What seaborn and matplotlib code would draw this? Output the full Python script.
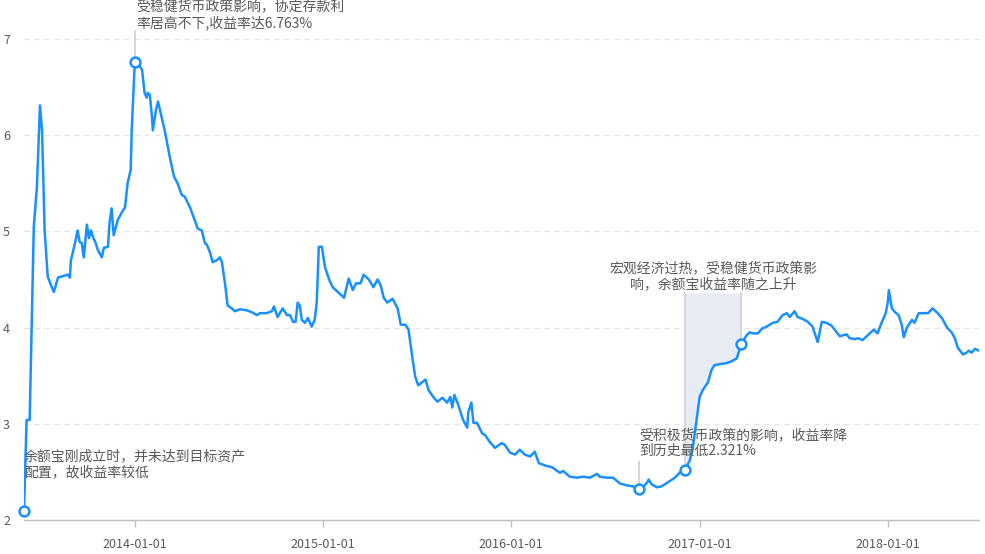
import matplotlib
matplotlib.use("Agg")
import matplotlib.pyplot as plt
import matplotlib.dates as mdates
import seaborn as sns
import pandas as pd

# ---------------- data ----------------
dates = [
    "2013-05-31", "2013-06-05", "2013-06-11", "2013-06-19", "2013-06-25", "2013-07-01",
    "2013-07-05", "2013-07-10", "2013-07-16", "2013-07-24", "2013-07-28", "2013-08-05",
    "2013-08-24", "2013-08-28", "2013-08-30", "2013-09-07", "2013-09-12", "2013-09-16",
    "2013-09-20", "2013-09-24", "2013-09-30", "2013-10-04", "2013-10-08", "2013-10-12",
    "2013-10-17", "2013-10-21", "2013-10-29", "2013-11-02", "2013-11-10", "2013-11-13",
    "2013-11-17", "2013-11-21", "2013-11-29", "2013-12-07", "2013-12-13", "2013-12-18",
    "2013-12-24", "2013-12-26", "2014-01-01", "2014-01-07", "2014-01-15", "2014-01-20",
    "2014-01-24", "2014-01-26", "2014-01-30", "2014-02-03", "2014-02-05", "2014-02-11",
    "2014-02-15", "2014-02-22", "2014-02-28", "2014-03-10", "2014-03-18", "2014-03-25",
    "2014-04-02", "2014-04-08", "2014-04-18", "2014-04-27", "2014-05-03", "2014-05-11",
    "2014-05-17", "2014-05-21", "2014-05-27", "2014-06-01", "2014-06-09", "2014-06-15",
    "2014-06-19", "2014-06-25", "2014-06-30", "2014-07-08", "2014-07-14", "2014-07-24",
    "2014-08-06", "2014-08-16", "2014-08-26", "2014-09-01", "2014-09-14", "2014-09-24",
    "2014-09-28", "2014-10-05", "2014-10-15", "2014-10-23", "2014-10-29", "2014-11-04",
    "2014-11-09", "2014-11-13", "2014-11-17", "2014-11-21", "2014-11-27", "2014-12-03",
    "2014-12-10", "2014-12-16", "2014-12-20", "2014-12-24", "2014-12-30", "2015-01-05",
    "2015-01-13", "2015-01-20", "2015-02-01", "2015-02-11", "2015-02-20", "2015-02-28",
    "2015-03-06", "2015-03-15", "2015-03-21", "2015-03-31", "2015-04-09", "2015-04-17",
    "2015-04-23", "2015-04-29", "2015-05-06", "2015-05-16", "2015-05-26", "2015-06-01",
    "2015-06-10", "2015-06-16", "2015-06-24", "2015-06-29", "2015-07-05", "2015-07-19",
    "2015-07-25", "2015-08-03", "2015-08-11", "2015-08-21", "2015-08-30", "2015-09-05",
    "2015-09-09", "2015-09-13", "2015-09-19", "2015-09-24", "2015-09-30", "2015-10-08",
    "2015-10-10", "2015-10-16", "2015-10-20", "2015-10-27", "2015-11-06", "2015-11-12",
    "2015-11-21", "2015-12-01", "2015-12-14", "2015-12-20", "2015-12-30", "2016-01-09",
    "2016-01-18", "2016-01-28", "2016-02-07", "2016-02-16", "2016-02-24", "2016-03-11",
    "2016-03-20", "2016-04-05", "2016-04-11", "2016-04-24", "2016-05-08", "2016-05-19",
    "2016-06-02", "2016-06-16", "2016-06-21", "2016-07-05", "2016-07-17", "2016-07-30",
    "2016-08-13", "2016-08-24", "2016-09-05", "2016-09-13", "2016-09-21", "2016-09-24",
    "2016-09-30", "2016-10-10", "2016-10-19", "2016-10-31", "2016-11-14", "2016-11-23",
    "2016-12-03", "2016-12-13", "2016-12-19", "2016-12-26", "2017-01-01", "2017-01-07",
    "2017-01-17", "2017-01-24", "2017-01-30", "2017-02-09", "2017-02-22", "2017-03-04",
    "2017-03-14", "2017-03-23", "2017-04-02", "2017-04-08", "2017-04-14", "2017-04-24",
    "2017-05-02", "2017-05-11", "2017-05-23", "2017-06-01", "2017-06-11", "2017-06-19",
    "2017-06-25", "2017-07-04", "2017-07-10", "2017-07-20", "2017-07-30", "2017-08-08",
    "2017-08-18", "2017-08-26", "2017-09-04", "2017-09-14", "2017-09-24", "2017-09-30",
    "2017-10-13", "2017-10-19", "2017-10-29", "2017-11-04", "2017-11-13", "2017-11-23",
    "2017-12-05", "2017-12-12", "2017-12-20", "2017-12-28", "2018-01-01", "2018-01-03",
    "2018-01-09", "2018-01-15", "2018-01-22", "2018-01-28", "2018-02-01", "2018-02-07",
    "2018-02-17", "2018-02-22", "2018-03-02", "2018-03-14", "2018-03-20", "2018-03-29",
    "2018-04-06", "2018-04-16", "2018-04-26", "2018-05-05", "2018-05-11", "2018-05-17",
    "2018-05-27", "2018-06-03", "2018-06-07", "2018-06-13", "2018-06-19", "2018-06-27",
]
rates = [
    2.094, 3.04, 3.04, 5.05, 5.46, 6.31,
    6.05, 5.01, 4.53, 4.42, 4.37, 4.52,
    4.55, 4.52, 4.70, 4.88, 5.01, 4.89,
    4.88, 4.73, 5.07, 4.93, 5.01, 4.94,
    4.88, 4.81, 4.73, 4.83, 4.84, 5.09,
    5.24, 4.96, 5.12, 5.20, 5.25, 5.50,
    5.64, 6.05, 6.763, 6.75, 6.68, 6.44,
    6.39, 6.44, 6.42, 6.21, 6.05, 6.26,
    6.35, 6.19, 6.05, 5.77, 5.57, 5.50,
    5.38, 5.36, 5.25, 5.12, 5.03, 5.01,
    4.88, 4.86, 4.78, 4.68, 4.70, 4.73,
    4.68, 4.46, 4.23, 4.20, 4.17, 4.19,
    4.18, 4.16, 4.13, 4.15, 4.15, 4.17,
    4.22, 4.11, 4.20, 4.13, 4.13, 4.06,
    4.06, 4.26, 4.23, 4.08, 4.05, 4.10,
    4.01, 4.08, 4.26, 4.84, 4.84, 4.63,
    4.50, 4.42, 4.36, 4.31, 4.51, 4.39,
    4.46, 4.46, 4.55, 4.50, 4.42, 4.50,
    4.44, 4.31, 4.26, 4.30, 4.20, 4.03,
    4.03, 3.98, 3.67, 3.49, 3.40, 3.46,
    3.35, 3.28, 3.23, 3.27, 3.22, 3.28,
    3.17, 3.30, 3.22, 3.14, 3.04, 2.96,
    3.12, 3.22, 3.01, 3.01, 2.90, 2.88,
    2.81, 2.75, 2.80, 2.78, 2.70, 2.68,
    2.73, 2.68, 2.66, 2.71, 2.59, 2.56,
    2.55, 2.49, 2.51, 2.45, 2.44, 2.45,
    2.44, 2.48, 2.45, 2.44, 2.44, 2.38,
    2.36, 2.35, 2.321, 2.34, 2.39, 2.42,
    2.37, 2.34, 2.35, 2.39, 2.44, 2.49,
    2.52, 2.62, 2.76, 3.04, 3.28, 3.35,
    3.43, 3.56, 3.61, 3.62, 3.63, 3.65,
    3.68, 3.83, 3.92, 3.95, 3.94, 3.94,
    3.99, 4.01, 4.05, 4.06, 4.13, 4.15,
    4.11, 4.17, 4.11, 4.09, 4.06, 4.01,
    3.85, 4.06, 4.05, 4.02, 3.95, 3.91,
    3.93, 3.89, 3.88, 3.89, 3.87, 3.92,
    3.98, 3.94, 4.05, 4.15, 4.26, 4.39,
    4.20, 4.16, 4.13, 4.03, 3.90, 4.00,
    4.08, 4.05, 4.15, 4.15, 4.15, 4.20,
    4.16, 4.10, 4.00, 3.95, 3.89, 3.79,
    3.72, 3.74, 3.76, 3.74, 3.78, 3.76,
]

x_ticks = ["2014-01-01", "2015-01-01", "2016-01-01", "2017-01-01", "2018-01-01"]
y_ticks = [2, 3, 4, 5, 6, 7]

start_date = "2013-05-31"
peak_date = "2014-01-01"
low_date = "2016-09-05"
rise_start = "2016-12-03"
rise_end = "2017-03-23"
rise_top = 4.36

text_start = "余额宝刚成立时，并未达到目标资产\n配置，故收益率较低"
text_peak = "受稳健货币政策影响，协定存款利\n率居高不下,收益率达6.763%"
text_low = "受积极货币政策的影响，收益率降\n到历史最低2.321%"
text_rise = "宏观经济过热，受稳健货币政策影\n响，余额宝收益率随之上升"

# ---------------- style ----------------
sns.set_theme(style="white")
plt.rcParams["font.family"] = ["Noto Sans CJK SC", "DejaVu Sans"]
plt.rcParams["axes.unicode_minus"] = False

LINE = "#1890ff"
TXT = "#595959"
VLINE = "#cfcfcf"

df = pd.DataFrame({"date": pd.to_datetime(dates), "rate": rates})
val = dict(zip(df["date"], df["rate"]))
T = pd.Timestamp

fig = plt.figure(figsize=(9.85, 5.54), dpi=100)
ax = fig.add_axes([24 / 985, 1 - 520 / 554, (979 - 24) / 985, (520 - 39) / 554])

# shaded rise region
m = (df["date"] >= T(rise_start)) & (df["date"] <= T(rise_end))
ax.fill_between(df.loc[m, "date"], df.loc[m, "rate"], rise_top,
                color="#e6ebf4", lw=0, zorder=1)

sns.lineplot(data=df, x="date", y="rate", ax=ax, color=LINE, lw=1.8, zorder=3)

# vertical connector lines
ax.plot([T(peak_date)] * 2, [val[T(peak_date)], 7.08], color=VLINE, lw=1.2, zorder=2, clip_on=False)
ax.plot([T(low_date)] * 2, [val[T(low_date)], 2.61], color=VLINE, lw=1.2, zorder=2)
ax.plot([T(rise_start)] * 2, [val[T(rise_start)], rise_top], color=VLINE, lw=1.2, zorder=2)
ax.plot([T(rise_end)] * 2, [val[T(rise_end)], rise_top], color=VLINE, lw=1.2, zorder=2)

# markers
mk_dates = [start_date, peak_date, low_date, rise_start, rise_end]
ax.scatter([T(d) for d in mk_dates], [val[T(d)] for d in mk_dates], s=50,
           facecolor="white", edgecolor=LINE, linewidth=1.8, zorder=5, clip_on=False)

# annotation texts
ax.text(T(start_date), 2.582, text_start, ha="left", va="center", fontsize=10,
        color=TXT, linespacing=1.2, zorder=6)
ax.text(T(peak_date) + pd.Timedelta(days=2), 7.25, text_peak, ha="left", va="center",
        fontsize=10, color=TXT, linespacing=1.2, clip_on=False, zorder=6)
ax.text(T(low_date), 2.80, text_low, ha="left", va="center", fontsize=10,
        color=TXT, linespacing=1.2, zorder=6)
mid = T(rise_start) + (T(rise_end) - T(rise_start)) / 2
ax.text(mid, 4.536, text_rise, ha="center", va="center", fontsize=10,
        color=TXT, linespacing=1.2, zorder=6)

# axes
ax.set_xlim(T(dates[0]), T(dates[-1]))
ax.set_ylim(2, 7)
ax.set_xticks([T(d) for d in x_ticks])
ax.set_xticklabels(x_ticks)
ax.set_yticks(y_ticks)
ax.set_yticklabels([str(v) for v in y_ticks])
ax.set_xlabel("")
ax.set_ylabel("")

ax.yaxis.grid(True, linestyle=(0, (4, 4)), color="#e3e3e3", lw=0.9, zorder=0)
ax.xaxis.grid(False)
for s in ["top", "right", "left"]:
    ax.spines[s].set_visible(False)
ax.spines["bottom"].set_color("#bfbfbf")
ax.spines["bottom"].set_linewidth(1.0)
ax.tick_params(axis="x", length=5, width=1, color="#bfbfbf", labelsize=9,
               labelcolor=TXT, pad=8, direction="out", bottom=True)
ax.tick_params(axis="y", length=0, labelsize=9, labelcolor=TXT, pad=10)
ax.set_facecolor("white")

fig.savefig("out.png", dpi=100, facecolor="white")
